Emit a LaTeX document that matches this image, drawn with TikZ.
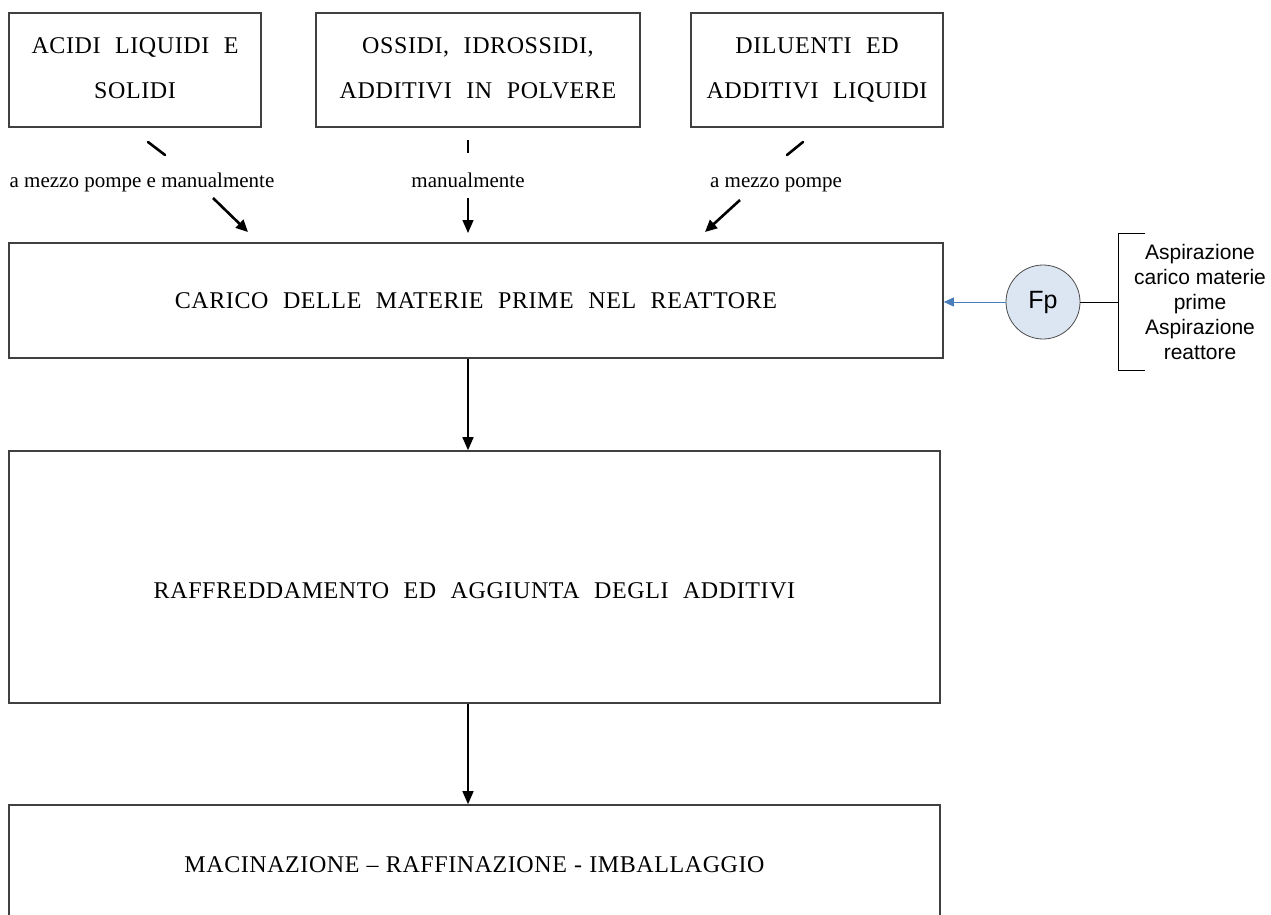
\documentclass[tikz,border=0pt]{standalone}
\usepackage{fontspec}
\setmainfont{Liberation Serif}
\newfontfamily\capsf{Liberation Serif}[WordSpace=2.2,LetterSpace=2.5]
\newfontfamily\capsn{Liberation Serif}[WordSpace=1.1,LetterSpace=2.4]
\newfontfamily\sansf{Liberation Sans}
\usetikzlibrary{arrows.meta}
\definecolor{fpfill}{RGB}{220,230,242}
\definecolor{fpblue}{RGB}{74,126,187}
\begin{document}
\begin{tikzpicture}[x=1pt,y=-1pt,
  boxst/.style={draw=black!75, line width=1.6pt, rectangle, inner sep=0pt, align=center,
     font=\capsf\fontsize{24}{45}\selectfont},
  markst/.style={line width=2.6pt, line cap=round},
  bigarr/.style={line width=2.6pt, -{Triangle[length=12pt,width=11pt]}},
  downarr/.style={line width=1.4pt, -{Triangle[length=13pt,width=11pt]}},
  lbl/.style={font=\fontsize{21}{24}\selectfont, inner sep=0pt, anchor=base},
  capt/.style={font=\capsf\fontsize{24}{28}\selectfont, inner sep=0pt},
  bluearr/.style={draw=fpblue, color=fpblue, line width=0.9pt, -{Triangle[length=10pt,width=9pt]}},
]
\useasboundingbox (0,0) rectangle (1271,915);
\clip (0,0) rectangle (1271,915);
% top boxes
\node[boxst, minimum width=252pt, minimum height=114pt] (b1) at (135,70) {ACIDI LIQUIDI E\\SOLIDI\vphantom{Q}};
\node[boxst, minimum width=324pt, minimum height=114pt] (b2) at (478,70) {OSSIDI, IDROSSIDI,\\ADDITIVI IN POLVERE\vphantom{Q}};
\node[boxst, minimum width=252pt, minimum height=114pt] (b3) at (817,70) {DILUENTI ED\\ADDITIVI LIQUIDI};
% main boxes
\node[boxst, minimum width=934pt, minimum height=115pt] (m1) at (476,300.5) {CARICO DELLE MATERIE PRIME NEL REATTORE};
\node[boxst, minimum width=931pt, minimum height=252pt] (m2) at (474.5,577) {};
\node[capt] (t2) at (474.5,591) {RAFFREDDAMENTO ED AGGIUNTA DEGLI ADDITIVI};
\node[boxst, minimum width=931pt, minimum height=150pt] (m3) at (474.5,880) {};
\node[capt, font=\capsn\fontsize{24}{28}\selectfont] (t3) at (474.5,865) {MACINAZIONE – RAFFINAZIONE - IMBALLAGGIO};
% labels
\node[lbl] (l1) at (142,187) {a mezzo pompe e manualmente};
\node[lbl] (l2) at (468,187) {manualmente};
\node[lbl] (l3) at (776,187) {a mezzo pompe};
% left flow
\coordinate (a1) at (148,142); \coordinate (a2) at (165,155);
\coordinate (a3) at (213,198); \coordinate (a4) at (248,232);
\draw[markst] (a1) -- (a2);
\draw[bigarr] (a3) -- (a4);
% middle flow
\coordinate (c1) at (468,140); \coordinate (c2) at (468,153);
\coordinate (c3) at (468,198); \coordinate (c4) at (468,233);
\draw[line width=1.4pt] (c1) -- (c2);
\draw[downarr] (c3) -- (c4);
% right flow
\coordinate (d1) at (803,142); \coordinate (d2) at (787,155);
\coordinate (d3) at (740,200); \coordinate (d4) at (705,232);
\draw[markst] (d1) -- (d2);
\draw[bigarr] (d3) -- (d4);
% down arrows
\draw[downarr] (m1.south -| l2) -- (m2.north -| l2);
\draw[downarr] (m2.south -| l2) -- (m3.north -| l2);
% right side
\node[circle, draw=black!70, fill=fpfill, line width=0.8pt, minimum size=74pt, inner sep=0pt,
      font=\sansf\fontsize{25}{28}\selectfont] (fp) at (1043,302) {Fp};
\draw[bluearr] (fp.west) -- (m1.east |- fp.west);
\coordinate (br) at (1118,302);
\coordinate (bt) at (1118,233); \coordinate (bb) at (1118,370);
\coordinate (btr) at (1145,233); \coordinate (bbr) at (1145,370);
\draw[line width=0.8pt] (fp.east) -- (br);
\draw[line width=0.8pt] (btr) -- (bt) -- (bb) -- (bbr);
\node[font=\sansf\fontsize{21}{25}\selectfont, align=center, inner sep=0pt] (asp) at (1200,302)
  {Aspirazione\\carico materie\\prime\\Aspirazione\\reattore};
\end{tikzpicture}
\end{document}
